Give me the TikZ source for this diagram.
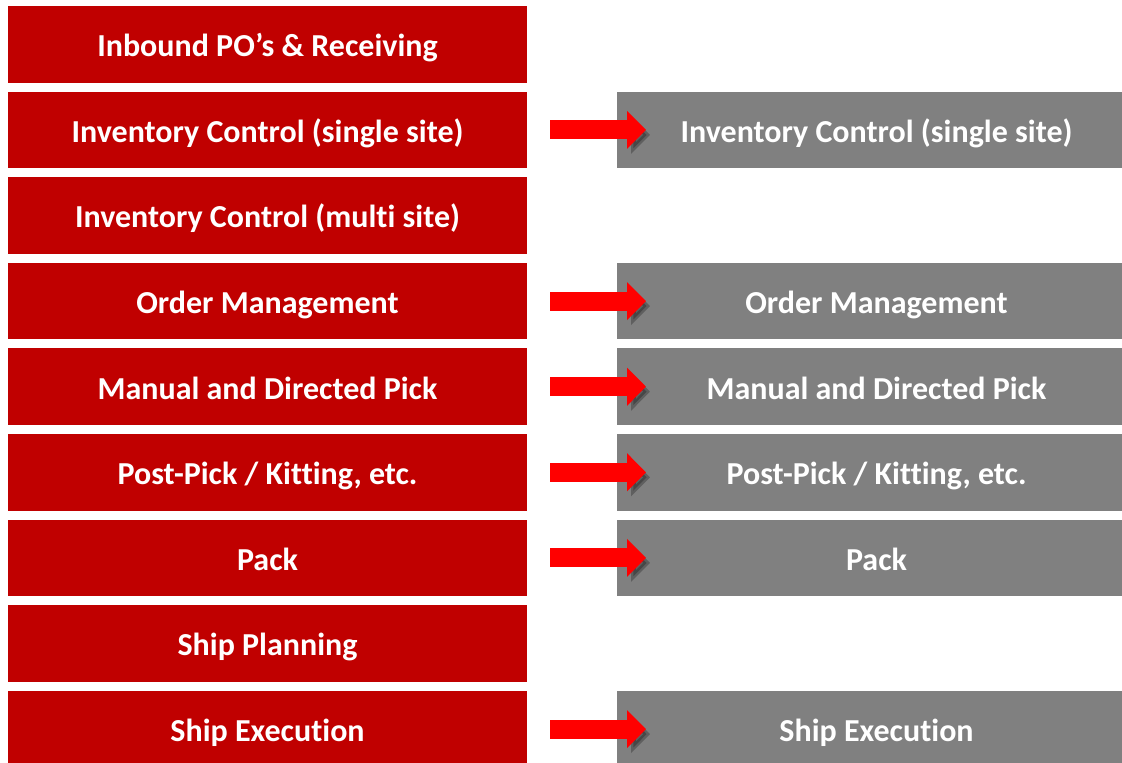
\documentclass[tikz,border=0pt]{standalone}
\usepackage{fontspec}
\setmainfont{Carlito}[Ligatures=NoCommon]
\usetikzlibrary{arrows.meta, chains, positioning}
\definecolor{boxred}{RGB}{192,0,0}
\definecolor{boxgray}{RGB}{128,128,128}
\definecolor{arrowred}{RGB}{255,0,0}
\tikzset{Modules/.style={
    x=1pt, y=1pt,
    node distance = 9pt and 90pt,
    start chain = L going below,
    base/.style = {minimum height=76.6pt, inner sep=0pt, outer sep=0pt, text height=30pt, text depth=5.2pt,
        text=white, font=\fontsize{32}{38}\selectfont\bfseries},
    legacy/.style = {base, fill=boxred, minimum width=519pt, on chain=L},
    target/.style = {base, fill=boxgray, minimum width=519pt},
    move/.style = {draw=arrowred, line width=19pt, -{Triangle[width=37pt,length=19pt]},
        shorten <=23pt, shorten >=-29pt,
        preaction={draw=black, opacity=.25, transform canvas={shift={(4pt,-5pt)}}}}
}}

\begin{document}
\begin{tikzpicture}[Modules]
        \useasboundingbox (0,0) rectangle (1122,-763);
        \node [legacy, anchor=north west] at (8,-6) {Inbound PO’s \& Receiving};
        \node [legacy] {Inventory Control (single site)};
        \node [legacy] {Inventory Control (multi site)};
        \node [legacy] {Order Management};
        \node [legacy] {Manual and Directed Pick};
        \node [legacy] {Post-Pick / Kitting, etc.};
        \node [legacy] {Pack};
        \node [legacy] {Ship Planning};
        \node [legacy] {Ship Execution};

        % new system
        \node [target, right=of L-2] (G-2) {Inventory Control (single site)};
        \node [target, right=of L-4] (G-4) {Order Management};
        \node [target, right=of L-5] (G-5) {Manual and Directed Pick};
        \node [target, right=of L-6] (G-6) {Post-Pick / Kitting, etc.};
        \node [target, right=of L-7] (G-7) {Pack};
        \node [target, right=of L-9] (G-9) {Ship Execution};

        \foreach \i in {2,4,5,6,7,9}
            \draw [move] (L-\i.east) -- (G-\i.west);
    \end{tikzpicture}
\end{document}
